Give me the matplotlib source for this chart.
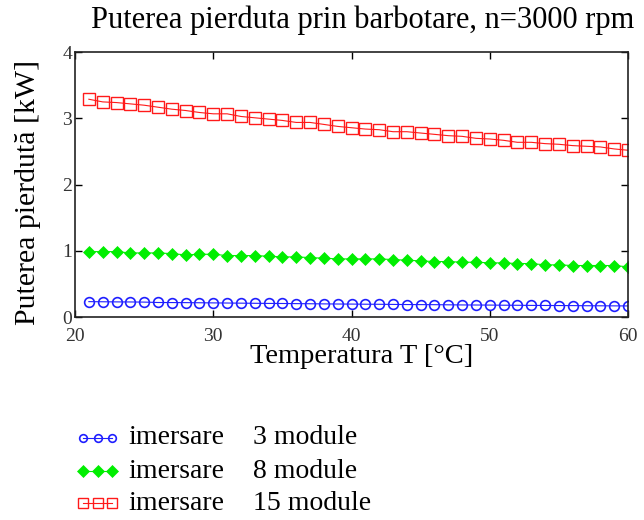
import numpy as np
import matplotlib.pyplot as plt
from matplotlib.lines import Line2D

plt.rcParams['font.family'] = ['Liberation Serif', 'DejaVu Serif']

# Oil temperature [°C]
temp = list(range(21, 61))

# Churning power loss [kW] for each immersion depth
p_3mod = [0.235, 0.233, 0.231, 0.230, 0.228, 0.222, 0.221, 0.220, 0.218, 0.216,
          0.214, 0.212, 0.210, 0.208, 0.207, 0.205, 0.203, 0.201, 0.199, 0.198,
          0.196, 0.195, 0.193, 0.191, 0.190, 0.189, 0.187, 0.185, 0.184, 0.183,
          0.181, 0.180, 0.178, 0.177, 0.176, 0.175, 0.173, 0.172, 0.171, 0.170]
p_8mod = [0.99, 0.99, 0.99, 0.97, 0.97, 0.97, 0.96, 0.94, 0.95, 0.95,
          0.93, 0.93, 0.93, 0.92, 0.91, 0.91, 0.90, 0.89, 0.88, 0.88,
          0.88, 0.88, 0.87, 0.86, 0.85, 0.84, 0.84, 0.83, 0.83, 0.82,
          0.82, 0.81, 0.81, 0.79, 0.79, 0.78, 0.78, 0.78, 0.78, 0.76]
p_15mod = [3.29, 3.25, 3.24, 3.22, 3.20, 3.17, 3.14, 3.12, 3.09, 3.07,
           3.07, 3.03, 3.01, 2.99, 2.97, 2.94, 2.94, 2.91, 2.88, 2.86,
           2.84, 2.83, 2.80, 2.80, 2.78, 2.76, 2.74, 2.73, 2.70, 2.69,
           2.67, 2.64, 2.64, 2.62, 2.61, 2.59, 2.58, 2.57, 2.54, 2.52]

legend_labels = ['3 module', '8 module', '15 module']

styles = [
    dict(color='#1f1fff', marker='o', mfc='none', mew=1.2),
    dict(color='#00ee00', marker='D', mfc='#00ee00', mew=0.5),
    dict(color='#ff1a1a', marker='s', mfc='none', mew=1.0),
]
plot_ms = [7, 6.5, 8]
legend_ms = [5.5, 6, 6.5]

fig = plt.figure(figsize=(6.44, 5.2), dpi=100)
ax = fig.add_axes([0.1165, 0.390, 0.8587, 0.5096])

for vals, st, ms in zip([p_3mod, p_8mod, p_15mod], styles, plot_ms):
    ax.plot(temp, vals, lw=0.8, ms=ms, **st)

ax.set_xlim(20, 60)
ax.set_ylim(0, 4)
ax.set_xticks([20, 30, 40, 50, 60])
ax.set_yticks([0, 1, 2, 3, 4])
ax.tick_params(direction='in', length=5, width=1, top=True, right=True,
               labelsize=14, labelcolor='#333333')
ax.tick_params(axis='x', pad=8)
ax.tick_params(axis='y', pad=2)
for sp in ax.spines.values():
    sp.set_linewidth(1.2)
    sp.set_color('#222222')

fig.text(0.563, 0.962, 'Puterea pierduta prin barbotare, n=3000 rpm',
         ha='center', va='center', fontsize=22)
fig.text(0.044, 0.629, 'Puterea pierdută [kW]', rotation=90,
         ha='center', va='center', fontsize=21.5)
fig.text(0.562, 0.315, 'Temperatura T [°C]', ha='center', va='center', fontsize=20.5)

# Legend drawn below the plot: three marker samples, then the text
rows_y = [1 - 438 / 520, 1 - 471 / 520, 1 - 503 / 520]
for y, st, ms, lab in zip(rows_y, styles, legend_ms, legend_labels):
    fig.add_artist(Line2D([83 / 644, 98 / 644, 112 / 644], [y, y, y],
                          transform=fig.transFigure, lw=0.8, ms=ms, **st))
    fig.text(128 / 644, y, 'imersare', ha='left', va='center', fontsize=20)
    fig.text(253 / 644, y, lab, ha='left', va='center', fontsize=20)

fig.savefig('out.png', dpi=100)
